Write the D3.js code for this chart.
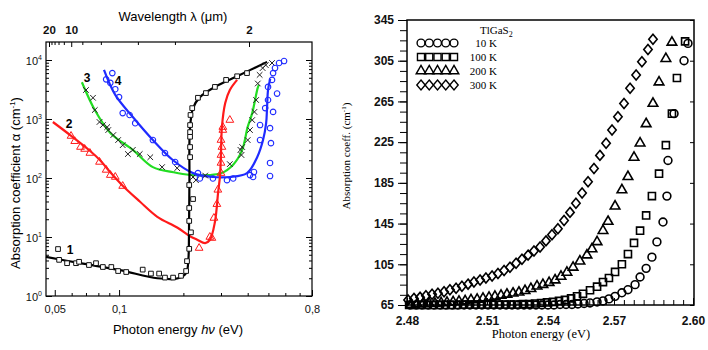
<!DOCTYPE html>
<html>
<head>
<meta charset="utf-8">
<script src="https://cdn.jsdelivr.net/npm/d3@7"></script>
<style>
  body { margin: 0; background: #fff; }
  svg { display: block; }
</style>
</head>
<body>
<svg id="chart" width="708" height="350"></svg>
<script>
// ---------------- left panel data: [photon energy (eV), alpha (cm^-1)] ----------------
// fitted lines
let line1 = [[0.0455,4.6],[0.0657,3.6],[0.101,2.75],[0.151,2.0],[0.189,2.0],[0.206,2.45],[0.211,4.1],
  [0.2125,13],[0.2135,100],[0.2145,650],[0.222,1530],[0.239,2350],[0.281,3500],[0.357,5300],[0.493,9300]];
let line2 = [[0.049,890],[0.059,535],[0.073,290],[0.0815,200],[0.091,125],[0.104,74],[0.125,40],[0.151,22],
  [0.187,14.5],[0.213,10.5],[0.232,9],[0.253,7.9],[0.266,8.9],[0.281,18],[0.291,58],[0.297,112],[0.3,265],
  [0.303,730],[0.314,1860],[0.33,3100],[0.357,4600]];
let line3 = [[0.067,4200],[0.077,1420],[0.091,580],[0.116,300],[0.144,153],[0.18,125],[0.215,113],[0.26,112],
  [0.3,120],[0.342,168],[0.377,300],[0.4,735],[0.42,1260],[0.446,3400],[0.452,3800]];
let line4 = [[0.085,6800],[0.096,2560],[0.116,1080],[0.144,440],[0.179,200],[0.222,121],[0.275,104],[0.33,104],
  [0.397,121],[0.443,225],[0.472,440],[0.488,850],[0.493,1600],[0.498,3100],[0.51,4800]];

// measured points
let points1 = [[0.0524,4.1],[0.0571,3.6],[0.0629,3.6],[0.065,3.8],[0.0723,3.35],[0.078,3.6],[0.084,3.1],[0.092,3.1],
  [0.099,2.65],[0.108,2.55],[0.129,2.8],[0.141,2.4],[0.154,2.4],[0.164,2.05],[0.179,2.05],[0.195,2.2],[0.206,2.65],
  [0.208,3.9],[0.213,6.3],[0.217,12],[0.213,18.7],[0.213,31],[0.222,44],[0.213,76],[0.215,226],[0.215,335],
  [0.215,500],[0.215,600],[0.215,790],[0.216,1170],[0.22,1530],[0.234,2290],[0.255,2750],[0.281,3500],
  [0.317,4600],[0.357,5300],[0.397,6000]];
let points2 = [[0.0596,515],[0.062,420],[0.066,335],[0.069,310],[0.073,265],[0.081,187],[0.087,137],[0.091,112],
  [0.096,104],[0.104,73],[0.237,6.5],[0.266,10],[0.272,9.6],[0.278,21],[0.287,36],[0.29,63],[0.3,121],[0.3,180],
  [0.3,245],[0.303,335],[0.3,440],[0.306,650],[0.306,730],[0.33,960]];
let points3 = [[0.07,3100],[0.0755,2290],[0.077,1420],[0.081,890],[0.084,790],[0.088,730],[0.089,650],[0.094,535],
  [0.099,440],[0.104,360],[0.11,255],[0.116,300],[0.125,255],[0.14,225],[0.159,153],[0.187,147],[0.222,104],
  [0.229,92],[0.253,110],[0.33,172],[0.37,300],[0.377,335],[0.374,245],[0.4,440],[0.41,650],[0.42,960],
  [0.43,1320],[0.438,2100],[0.446,4000],[0.455,5600],[0.47,7300],[0.486,8200],[0.52,8900]];
let points4 = [[0.087,4700],[0.093,6000],[0.091,4100],[0.096,3200],[0.1,2350],[0.104,1260],[0.112,1170],[0.119,850],
  [0.144,440],[0.164,265],[0.183,187],[0.234,121],[0.239,98],[0.275,98],[0.32,92],[0.342,98],[0.424,104],
  [0.41,112],[0.428,126],[0.509,108],[0.509,180],[0.514,390],[0.509,700],[0.457,440],[0.457,790],[0.483,1530],
  [0.526,1320],[0.498,2100],[0.549,2700],[0.498,3500],[0.52,4600],[0.526,6000],[0.537,7300],[0.561,8900],[0.592,9600]];

let curveNames = ["1", "2", "3", "4"];
let curveNameE = [0.059, 0.0583, 0.0708, 0.0989];
let curveNameA = [6.25, 854, 5150, 4600];
let legendSquare = [0.0518, 6.25];

let xMajorLeft = [0.05, 0.1, 0.8];
let xMajorLeftLabels = ["0,05", "0,1", "0,8"];
let xMinorLeft = [0.06, 0.07, 0.08, 0.09, 0.2, 0.3, 0.4, 0.5, 0.6, 0.7];
let yDecadesLeft = [0, 1, 2, 3, 4];
let lambdaMajor = [20, 10, 2];
let lambdaMinor = [18, 16, 14, 12, 8, 6, 4, 3];

// ---------------- right panel data (TlGaS2) ----------------
let e10K = [2.4811,2.4834,2.4856,2.4879,2.4901,2.4924,2.4946,2.4969,2.4991,2.5014,2.5036,2.5059,2.5081,2.5105,
  2.5134,2.5164,2.5194,2.5223,2.5252,2.5282,2.5311,2.5341,2.5370,2.5400,2.5427,2.5455,2.5482,2.5509,2.5536,
  2.5564,2.5591,2.5623,2.5650,2.5677,2.5704,2.5730,2.5753,2.5780,2.5799,2.5822,2.5844,2.5863,2.5886,2.5901,
  2.5905,2.5928,2.5966,2.5981];
let a10K = [65,65,65,65,65,65,65,65,65,65,65,65,65,65,65,65,65,65,65,65,65,65,65,65,
  65,65.5,65.5,65.5,66,66.5,67,68,69,71,73.5,77,80,85,92.5,101,112,127,146.5,172,207,253,305,322];
let e100K = [2.4808,2.4830,2.4853,2.4875,2.4898,2.4920,2.4943,2.4965,2.4988,2.5010,2.5033,2.5055,2.5078,2.5100,
  2.5130,2.5159,2.5189,2.5218,2.5248,2.5277,2.5307,2.5336,2.5366,2.5395,2.5423,2.5450,2.5477,2.5505,2.5532,
  2.5559,2.5591,2.5623,2.5650,2.5677,2.5704,2.5730,2.5753,2.5776,2.5799,2.5822,2.5844,2.5871,2.5897,2.5920,
  2.5939,2.5970];
let a100K = [65,65,65,65,65,65,65,65,65,65.5,65.5,65.5,65.5,65.5,65.5,65.5,65.5,65.5,65.5,
  66,66,66.5,67,67.5,68,69,70,71.5,73.5,76,79.5,83,87.5,91.5,97.5,105,115,126,138,153,172,194,222,253,288,324];
let e200K = [2.4815,2.4838,2.4860,2.4883,2.4905,2.4928,2.4950,2.4973,2.4995,2.5018,2.5040,2.5063,2.5085,2.5110,
  2.5139,2.5169,2.5198,2.5228,2.5257,2.5287,2.5316,2.5346,2.5375,2.5405,2.5432,2.5459,2.5486,2.5514,2.5545,
  2.5577,2.5600,2.5623,2.5650,2.5673,2.5704,2.5730,2.5753,2.5776,2.5799,2.5822,2.5848,2.5871,2.5897,2.5920];
let a200K = [65.5,66,66,66.5,66.5,67,67.5,68,68.5,69,70,70.5,71.5,72.5,73.5,74.5,75.5,76.5,77.5,79,
  81,83.5,85,87,89.5,93,97,102,108,114,120,127,138,147,162,178,191,210,224,243,263,284,307,323];
let e300K = [2.4804,2.4826,2.4849,2.4871,2.4894,2.4916,2.4939,2.4961,2.4984,2.5006,2.5029,2.5051,2.5074,2.5096,
  2.5125,2.5154,2.5184,2.5213,2.5243,2.5272,2.5302,2.5331,2.5361,2.5390,2.5418,2.5445,2.5473,2.5500,2.5527,
  2.5555,2.5582,2.5609,2.5636,2.5664,2.5691,2.5715,2.5738,2.5761,2.5784,2.5806,2.5829,2.5848];
let a300K = [70,71.5,72.5,74,75.5,76.5,78,80,81.5,83.5,85.5,87.5,89.5,91.5,93.5,96,99,102,106,110,
  114,118,122,128,134,140,148,156,165,175,186,199,212,224,237,250,263,278,291,304,316,326];

let xTicksRight = [2.48, 2.51, 2.54, 2.57, 2.60];
let yTicksRight = [65, 105, 145, 185, 225, 265, 305, 345];
let legendLabels = ["10 K", "100 K", "200 K", "300 K"];

let svg = d3.select("#chart");

// =================== left panel ===================
let L = {left: 46, right: 312, top: 42, bottom: 296};
let xL = d3.scaleLog().domain([0.0455, 0.8]).range([L.left, L.right]);
let yL = d3.scaleLog().domain([1, 20200]).range([L.bottom, L.top]);
// top axis is drawn linear in 1/lambda, the way the original figure has it
let wL = d3.scaleLinear().domain([1/20, 1/2]).range([49, 249]);

let left = svg.append("g").attr("font-family", "'Liberation Sans', Arial, sans-serif");

function cleanAxis(g){
  g.select(".domain").remove();
  g.selectAll(".tick line").attr("stroke", "#000").attr("stroke-width", 1);
}

// bottom
left.append("g").attr("transform", "translate(0," + L.bottom + ")")
  .call(d3.axisBottom(xL).tickValues(xMajorLeft).tickSize(-6).tickPadding(9)
    .tickFormat(function(d, i){ return xMajorLeftLabels[i]; }))
  .call(cleanAxis)
  .selectAll("text").attr("font-size", 11).attr("fill", "#111");
left.append("g").attr("transform", "translate(0," + L.bottom + ")")
  .call(d3.axisBottom(xL).tickValues(xMinorLeft).tickSize(-3).tickFormat(""))
  .call(cleanAxis);

// top (wavelength)
left.append("g").attr("transform", "translate(0," + L.top + ")")
  .call(d3.axisTop(wL).tickValues(lambdaMajor.map(function(l){ return 1/l; })).tickSize(-5).tickPadding(8)
    .tickFormat(function(d, i){ return lambdaMajor[i]; }))
  .call(cleanAxis)
  .selectAll("text").attr("font-size", 11.5).attr("font-weight", "bold").attr("fill", "#111");
left.append("g").attr("transform", "translate(0," + L.top + ")")
  .call(d3.axisTop(wL).tickValues(lambdaMinor.map(function(l){ return 1/l; })).tickSize(-3).tickFormat(""))
  .call(cleanAxis);

// y ticks, left and right sides
let decadeVals = yDecadesLeft.map(function(p){ return Math.pow(10, p); });
let minorVals = [];
decadeVals.forEach(function(v){
  d3.range(2, 10).forEach(function(m){ if (v * m < 20000) minorVals.push(v * m); });
});
[["axisLeft", L.left], ["axisRight", L.right]].forEach(function(side){
  left.append("g").attr("transform", "translate(" + side[1] + ",0)")
    .call(d3[side[0]](yL).tickValues(decadeVals).tickSize(-6).tickFormat(""))
    .call(cleanAxis);
  left.append("g").attr("transform", "translate(" + side[1] + ",0)")
    .call(d3[side[0]](yL).tickValues(minorVals).tickSize(-3).tickFormat(""))
    .call(cleanAxis);
});

// 10^n labels
let yLab = left.append("g").selectAll("text").data(yDecadesLeft).join("text")
  .attr("x", L.left - 4)
  .attr("y", function(p){ return yL(Math.pow(10, p)) + 5; })
  .attr("text-anchor", "end")
  .attr("font-size", 11)
  .attr("fill", "#111");
yLab.append("tspan").text("10");
yLab.append("tspan").attr("dy", -5).attr("font-size", 7).text(function(p){ return p; });

left.append("rect")
  .attr("x", L.left).attr("y", L.top)
  .attr("width", L.right - L.left).attr("height", L.bottom - L.top)
  .attr("fill", "none").attr("stroke", "#000").attr("stroke-width", 1.2);

// titles
left.append("text").attr("x", 173).attr("y", 21).attr("text-anchor", "middle")
  .attr("font-size", 13).text("Wavelength λ (μm)");
let bx = left.append("text").attr("x", 178).attr("y", 334).attr("text-anchor", "middle").attr("font-size", 13);
bx.append("tspan").text("Photon energy ");
bx.append("tspan").attr("font-style", "italic").text("hν");
bx.append("tspan").text(" (eV)");
let ly = left.append("text").attr("transform", "translate(20,183) rotate(-90)")
  .attr("text-anchor", "middle").attr("font-size", 13);
ly.append("tspan").text("Absorption coefficient  α (cm");
ly.append("tspan").attr("dy", -5).attr("font-size", 8).text("-1");
ly.append("tspan").attr("dy", 5).text(")");

// fitted lines
let lineL = d3.line()
  .x(function(d){ return xL(d[0]); })
  .y(function(d){ return yL(d[1]); })
  .curve(d3.curveCatmullRom.alpha(0.5));

let lines = [[line3, "#22dd22"], [line4, "#1f2bff"], [line2, "#ff1a1a"], [line1, "#000"]];
lines.forEach(function(l){
  left.append("path").datum(l[0]).attr("d", lineL)
    .attr("fill", "none").attr("stroke", l[1]).attr("stroke-width", 2.2);
});

// markers
function placeL(d){ return "translate(" + xL(d[0]) + "," + yL(d[1]) + ")"; }

left.append("g").selectAll("path").data(points1).join("path")
  .attr("transform", placeL)
  .attr("d", d3.symbol().type(d3.symbolSquare).size(22))
  .attr("fill", "#fff").attr("stroke", "#111").attr("stroke-width", 1);
left.append("g").selectAll("path").data(points2).join("path")
  .attr("transform", placeL)
  .attr("d", d3.symbol().type(d3.symbolTriangle).size(26))
  .attr("fill", "none").attr("stroke", "#ff1a1a").attr("stroke-width", 1);
left.append("g").selectAll("path").data(points3).join("path")
  .attr("transform", placeL)
  .attr("d", "M-2.8,-2.8L2.8,2.8M-2.8,2.8L2.8,-2.8")
  .attr("fill", "none").attr("stroke", "#222").attr("stroke-width", 1);
left.append("g").selectAll("path").data(points4).join("path")
  .attr("transform", placeL)
  .attr("d", d3.symbol().type(d3.symbolCircle).size(24))
  .attr("fill", "none").attr("stroke", "#1f2bff").attr("stroke-width", 1.1);

// curve numbers and the little legend square
left.append("path").attr("transform", placeL(legendSquare))
  .attr("d", d3.symbol().type(d3.symbolSquare).size(22))
  .attr("fill", "#fff").attr("stroke", "#111").attr("stroke-width", 1);
left.append("g").selectAll("text").data(curveNames).join("text")
  .attr("x", function(d, i){ return xL(curveNameE[i]); })
  .attr("y", function(d, i){ return yL(curveNameA[i]) + 5; })
  .attr("text-anchor", "middle")
  .attr("font-size", 12).attr("font-weight", "bold")
  .text(function(d){ return d; });

// =================== right panel ===================
let R = {left: 407, right: 694, top: 20, bottom: 305};
// the printed x axis is not evenly spaced, so the scale follows the tick positions
let xR = d3.scaleLinear().domain(xTicksRight).range([407, 487, 548, 614, 693]);
let yR = d3.scaleLinear().domain([65, 345]).range([R.bottom, R.top]);

let right = svg.append("g").attr("font-family", "'Liberation Serif', 'Times New Roman', serif");

right.append("g").attr("transform", "translate(" + R.left + ",0)")
  .call(d3.axisLeft(yR).tickValues(yTicksRight).tickSize(9).tickPadding(4))
  .call(cleanAxis)
  .selectAll("text").attr("font-size", 12).attr("font-weight", "bold").attr("fill", "#111");
right.append("g").attr("transform", "translate(" + R.left + ",0)")
  .call(d3.axisLeft(yR).tickValues(d3.range(65, 346, 10)).tickSize(7).tickFormat(""))
  .call(cleanAxis);
right.append("g").attr("transform", "translate(" + R.right + ",0)")
  .call(d3.axisRight(yR).tickValues(yTicksRight).tickSize(-4).tickFormat(""))
  .call(cleanAxis);

let xMinorRight = [];
for (let i = 0; i < xTicksRight.length - 1; i++) {
  let step = (xTicksRight[i + 1] - xTicksRight[i]) / 8;
  d3.range(1, 8).forEach(function(k){ xMinorRight.push(xTicksRight[i] + k * step); });
}
right.append("g").attr("transform", "translate(0," + R.bottom + ")")
  .call(d3.axisBottom(xR).tickValues(xTicksRight).tickSize(-7).tickPadding(11)
    .tickFormat(d3.format(".2f")))
  .call(cleanAxis)
  .selectAll("text").attr("font-size", 12).attr("font-weight", "bold").attr("fill", "#111");
right.append("g").attr("transform", "translate(0," + R.bottom + ")")
  .call(d3.axisBottom(xR).tickValues(xMinorRight).tickSize(-5).tickFormat(""))
  .call(cleanAxis);

right.append("rect")
  .attr("x", R.left).attr("y", R.top)
  .attr("width", R.right - R.left).attr("height", R.bottom - R.top)
  .attr("fill", "none").attr("stroke", "#000").attr("stroke-width", 1.5);

right.append("text").attr("x", 541).attr("y", 338).attr("text-anchor", "middle")
  .attr("font-size", 12.5).text("Photon energy (eV)");
let ry = right.append("text").attr("transform", "translate(350,156) rotate(-90)")
  .attr("text-anchor", "middle").attr("font-size", 11);
ry.append("tspan").text("Absorption coeff. (cm");
ry.append("tspan").attr("dy", -4).attr("font-size", 7).text("-1");
ry.append("tspan").attr("dy", 4).text(")");

// marker shapes
let shapes = [
  d3.symbol().type(d3.symbolCircle).size(48)(),
  d3.symbol().type(d3.symbolSquare).size(50)(),
  d3.symbol().type(d3.symbolTriangle).size(40)(),
  "M0,-5L4.2,0L0,5L-4.2,0Z"
];
let seriesR = [d3.zip(e10K, a10K), d3.zip(e100K, a100K), d3.zip(e200K, a200K), d3.zip(e300K, a300K)];

seriesR.forEach(function(s, i){
  right.append("g").selectAll("path").data(s).join("path")
    .attr("transform", function(d){ return "translate(" + xR(d[0]) + "," + yR(d[1]) + ")"; })
    .attr("d", shapes[i])
    .attr("fill", "none").attr("stroke", "#000").attr("stroke-width", 1.6);
});

// legend
let leg = right.append("g");
let legText = leg.append("text").attr("x", 480).attr("y", 34).attr("font-size", 11);
legText.append("tspan").text("TlGaS");
legText.append("tspan").attr("dy", 3).attr("font-size", 8).text("2");

let legX = d3.scaleLinear().domain([0, 4]).range([421, 454]);
legendLabels.forEach(function(lab, i){
  let y = 43 + i * 14;
  leg.append("g").selectAll("path").data(d3.range(5)).join("path")
    .attr("transform", function(k){ return "translate(" + legX(k) + "," + y + ")"; })
    .attr("d", shapes[i])
    .attr("fill", "none").attr("stroke", "#000").attr("stroke-width", 1.4);
  leg.append("text").attr("x", 497).attr("y", y + 4).attr("text-anchor", "end")
    .attr("font-size", 11).text(lab);
});
</script>
</body>
</html>
